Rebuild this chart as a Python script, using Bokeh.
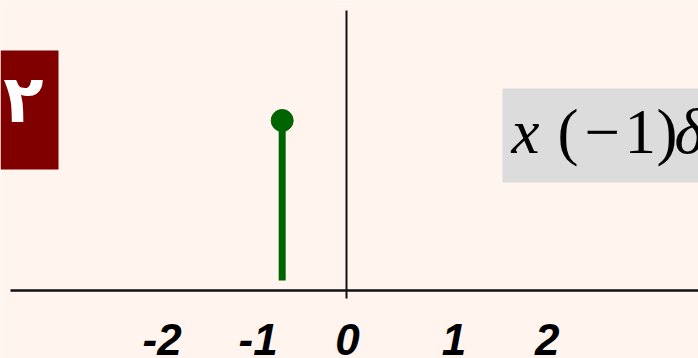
from bokeh.plotting import figure
from bokeh.models import Range1d
from bokeh.core.properties import value
from bokeh.embed import file_html
from bokeh.resources import INLINE

# ---- data ----
stem_n = [-0.67]          # position of the impulse (in tick units, vertical axis at 0)
stem_val = [1.0]
tick_x = [-1.92, -0.92, 0.01, 1.12, 2.09]
tick_labels = ["-2", "-1", "0", "1", "2"]
slide_number = ["۲"]
formula_italic = ["x", "δ(n+1)"]
formula_upright = ["(", "−", "1", ")"]

# ---- layout helpers (pixel -> data) ----
W, H = 698, 358
OX, OY = 346, 290
SX, SY = 96.0, 170.0
def X(px): return (px - OX) / SX
def Y(py): return (OY - py) / SY

BG = "#FFF4EE"
p = figure(width=W, height=H, x_range=Range1d(X(0), X(W)), y_range=Range1d(Y(H), Y(0)),
           output_backend="svg", toolbar_location=None, min_border=0,
           x_axis_location=None, y_axis_location=None,
           background_fill_color=BG, border_fill_color=BG, outline_line_color=None)
p.grid.visible = False

# slide number box
p.quad(left=[X(0)], right=[X(58)], top=[Y(50)], bottom=[Y(169)], fill_color="#800000", line_color=None)
p.text(x=[X(23)], y=[Y(99)], text=slide_number, text_color="white", text_font=value("DejaVu Sans"),
       text_font_style="bold", text_font_size="66px", text_align="center", text_baseline="middle")

# formula box
p.quad(left=[X(502)], right=[X(720)], top=[Y(88)], bottom=[Y(182)], fill_color="#DCDCDC", line_color=None)
f_mid = Y(131)
p.text(x=[X(511), X(674)], y=[f_mid, f_mid], text=formula_italic, text_font=value("Liberation Serif"),
       text_font_style="italic", text_font_size="63px", text_color="black",
       text_align="left", text_baseline="middle")
p.text(x=[X(557), X(584), X(624), X(656)], y=[f_mid] * 4, text=formula_upright,
       text_font=value("Liberation Serif"), text_font_style="normal", text_font_size="63px",
       text_color="black", text_align="left", text_baseline="middle")

# axes lines
p.segment(x0=[X(10)], y0=[0], x1=[X(W + 5)], y1=[0], line_color="#111111", line_width=2.5)
p.segment(x0=[0], y0=[Y(10)], x1=[0], y1=[Y(298)], line_color="#111111", line_width=2)

# stem
base = [Y(280)] * len(stem_n)
p.segment(x0=stem_n, y0=base, x1=stem_n, y1=stem_val, line_color="#006400", line_width=7)
p.scatter(x=stem_n, y=stem_val, size=22, fill_color="#006400", line_color="#006400")

# tick labels
p.text(x=tick_x, y=[Y(339)] * len(tick_x), text=tick_labels, text_font=value("Liberation Sans"),
       text_font_style="bold italic", text_font_size="44px", text_color="black",
       text_align="center", text_baseline="middle")

html = file_html(p, INLINE)
html = html.replace("<body>", '<body style="margin:0; background-color:%s;">' % BG, 1)
open("out.html", "w").write(html)
